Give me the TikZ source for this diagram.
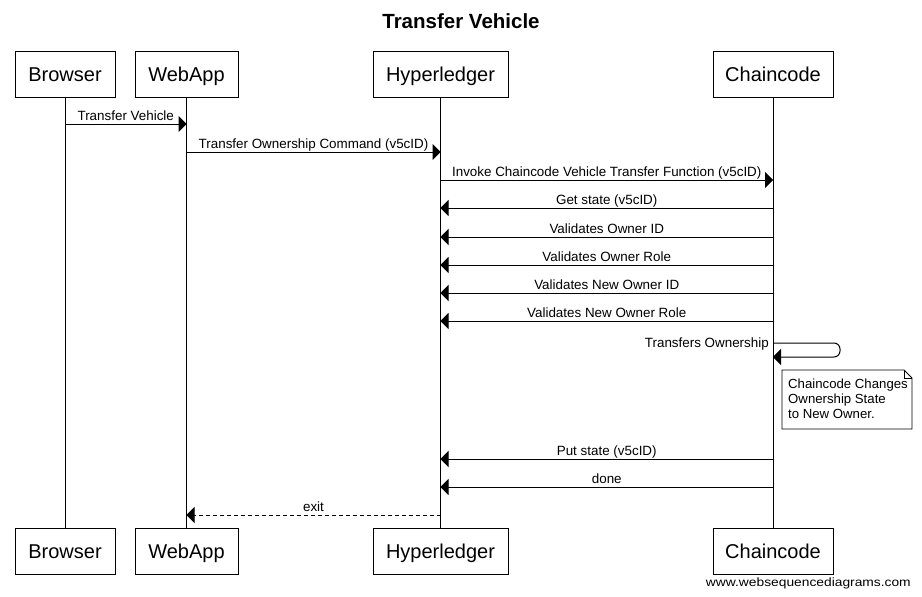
\documentclass[tikz,border=0pt]{standalone}
\usepackage{fontspec}
\setmainfont{Liberation Sans}
\usetikzlibrary{arrows.meta}
\begin{document}
\begin{tikzpicture}[x=1pt,y=-1pt,
  actor/.style={draw,line width=1pt,minimum height=46pt,inner sep=0pt,text height=14.3pt,text depth=0pt,font=\fontsize{20}{24}\selectfont},
  life/.style={line width=1pt},
  msg/.style={line width=1pt,-{Triangle[length=8pt,width=16pt]}},
  reply/.style={msg,dash pattern=on 4pt off 3pt},
  lbl/.style={font=\fontsize{13.4}{15}\selectfont,anchor=base,inner sep=0pt,yshift=3.5pt},
  note/.style={font=\fontsize{13.2}{15}\selectfont,align=left,anchor=north west,inner sep=0pt}]
\useasboundingbox[fill=white] (0,0) rectangle (922,597);
\node[font=\fontsize{20.5}{24}\selectfont\bfseries,anchor=base] (title) at (461,28) {Transfer Vehicle};
% top actors
\node[actor,minimum width=100pt] (bw) at (65,74) {Browser};
\node[actor,minimum width=103pt] (wa) at (186.5,74) {WebApp};
\node[actor,minimum width=135pt] (hl) at (440.5,74) {Hyperledger};
\node[actor,minimum width=120pt] (cc) at (773,74) {Chaincode};
% bottom actors
\node[actor,minimum width=100pt] (bw2) at (65,551) {Browser};
\node[actor,minimum width=103pt] (wa2) at (186.5,551) {WebApp};
\node[actor,minimum width=135pt] (hl2) at (440.5,551) {Hyperledger};
\node[actor,minimum width=120pt] (cc2) at (773,551) {Chaincode};
% lifelines
\draw[life] (bw) -- (bw2);
\draw[life] (wa) -- (wa2);
\draw[life] (hl) -- (hl2);
\draw[life] (cc) -- (cc2);
% message rows
\foreach \n/\y in {m1/124,m2/152,m3/180,m4/208,m5/237,m6/265,m7/293,m8/321,s1/343,s2/357,m9/459,m10/487,m11/515}
  \coordinate (\n) at (0,\y);
\draw[msg] (bw |- m1) -- node[lbl]{Transfer Vehicle} (wa |- m1);
\draw[msg] (wa |- m2) -- node[lbl]{Transfer Ownership Command (v5cID)} (hl |- m2);
\draw[msg] (hl |- m3) -- node[lbl]{Invoke Chaincode Vehicle Transfer Function (v5cID)} (cc |- m3);
\draw[msg] (cc |- m4) -- node[lbl]{Get state (v5cID)} (hl |- m4);
\draw[msg] (cc |- m5) -- node[lbl]{Validates Owner ID} (hl |- m5);
\draw[msg] (cc |- m6) -- node[lbl]{Validates Owner Role} (hl |- m6);
\draw[msg] (cc |- m7) -- node[lbl]{Validates New Owner ID} (hl |- m7);
\draw[msg] (cc |- m8) -- node[lbl]{Validates New Owner Role} (hl |- m8);
% self message
\draw[msg,rounded corners=6pt] (cc |- s1) -- ++(67,0) -- ++(0,14) -- (cc |- s2);
\node[font=\fontsize{13.4}{15}\selectfont,anchor=base east,inner sep=0pt] (tlbl) at (769,347) {Transfers Ownership};
% note
\draw[line width=0.8pt,fill=white] (782,370) -- (904,370) -- (912,378) -- (912,429) -- (782,429) -- cycle;
\draw[line width=0.8pt] (904,370) -- (904,378) -- (912,378);
\node[note] (nt) at (788,378.5) {Chaincode Changes\\Ownership State\\to New Owner.};
\draw[msg] (cc |- m9) -- node[lbl]{Put state (v5cID)} (hl |- m9);
\draw[msg] (cc |- m10) -- node[lbl]{done} (hl |- m10);
\draw[reply] (hl |- m11) -- node[lbl]{exit} (wa |- m11);
\node[font=\fontsize{12}{14}\selectfont,anchor=base east,inner sep=0pt,xscale=1.15] (wm) at (911,586) {www.websequencediagrams.com};
\end{tikzpicture}
\end{document}
